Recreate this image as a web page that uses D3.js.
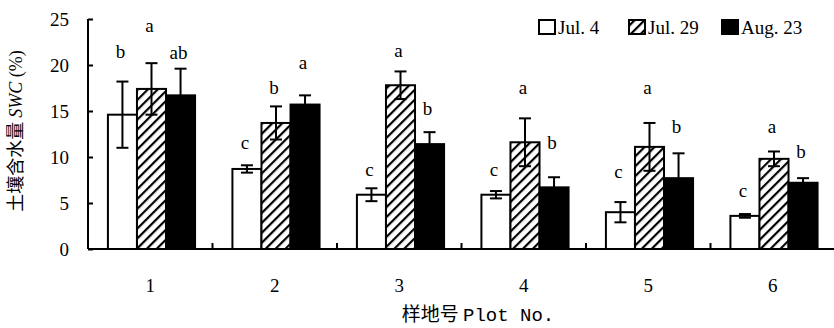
<!DOCTYPE html>
<html>
<head>
<meta charset="utf-8">
<script src="https://cdn.jsdelivr.net/npm/d3@7"></script>
<style>
  body { margin: 0; background: #fff; }
  text, tspan { fill: #000; }
</style>
</head>
<body>
<div id="chart"></div>
<script>
// data
var plots = ["1", "2", "3", "4", "5", "6"];
var dates = ["Jul. 4", "Jul. 29", "Aug. 23"];

var swcJul4  = [14.6, 8.7, 5.9, 5.9, 4.0, 3.6];
var swcJul29 = [17.4, 13.7, 17.8, 11.6, 11.1, 9.8];
var swcAug23 = [16.7, 15.7, 11.4, 6.7, 7.7, 7.2];

var errJul4  = [3.6, 0.4, 0.7, 0.4, 1.1, 0.2];
var errJul29 = [2.8, 1.8, 1.5, 2.6, 2.6, 0.8];
var errAug23 = [2.9, 1.0, 1.3, 1.1, 2.7, 0.5];

// significance letters and the height (in %) where they sit
var sigJul4  = ["b", "c", "c", "c", "c", "c"];
var sigJul29 = ["a", "b", "a", "a", "a", "a"];
var sigAug23 = ["ab", "a", "b", "b", "b", "b"];
var sigAtJul4  = [20.8, 10.9, 7.9, 7.9, 7.7, 5.7];
var sigAtJul29 = [23.6, 16.8, 20.9, 16.8, 16.8, 12.6];
var sigAtAug23 = [20.7, 19.6, 14.6, 10.9, 12.6, 9.9];

var yTicks = [0, 5, 10, 15, 20, 25];

var svgWidth = 834;
var svgHeight = 328;
var margin = { top: 19, right: 0, bottom: 79, left: 88 };
var width = svgWidth - margin.left - margin.right;
var height = svgHeight - margin.top - margin.bottom;

var series = [
    { key: dates[0], vals: swcJul4, errs: errJul4, sig: sigJul4, sigAt: sigAtJul4, fill: "#fff" },
    { key: dates[1], vals: swcJul29, errs: errJul29, sig: sigJul29, sigAt: sigAtJul29, fill: "url(#hatch)" },
    { key: dates[2], vals: swcAug23, errs: errAug23, sig: sigAug23, sigAt: sigAtAug23, fill: "#000" }
];

var svg = d3.select("#chart")
    .append("svg")
    .attr("width", svgWidth)
    .attr("height", svgHeight);

// diagonal hatch
var pat = svg.append("defs").append("pattern")
    .attr("id", "hatch")
    .attr("patternUnits", "userSpaceOnUse")
    .attr("width", 7)
    .attr("height", 7)
    .attr("patternTransform", "rotate(45)");
pat.append("rect").attr("width", 7).attr("height", 7).attr("fill", "#fff");
pat.append("rect").attr("x", 0).attr("width", 2.2).attr("height", 7).attr("fill", "#000");

var chartGroup = svg.append("g")
    .attr("transform", `translate(${margin.left}, ${margin.top})`);

var xScale = d3.scaleBand()
    .domain(plots)
    .range([0, 747])
    .paddingInner(0)
    .paddingOuter(0);

var xInner = d3.scaleBand()
    .domain(dates)
    .range([xScale.bandwidth() * 0.16, xScale.bandwidth() * 0.86]);

var yScale = d3.scaleLinear()
    .domain([0, 25])
    .range([height, 0]);

// bars
series.forEach(function(s) {
    var g = chartGroup.append("g");
    plots.forEach(function(p, i) {
        var x0 = xScale(p) + xInner(s.key);
        var bw = xInner.bandwidth();
        var cx = x0 + bw / 2;
        g.append("rect")
            .attr("x", x0)
            .attr("y", yScale(s.vals[i]))
            .attr("width", bw)
            .attr("height", height - yScale(s.vals[i]))
            .attr("fill", s.fill)
            .attr("stroke", "#000")
            .attr("stroke-width", 2);

        var top = yScale(s.vals[i] + s.errs[i]);
        var bot = yScale(s.vals[i] - s.errs[i]);
        g.append("line")
            .attr("x1", cx).attr("x2", cx)
            .attr("y1", top).attr("y2", bot)
            .attr("stroke", "#000").attr("stroke-width", 2);
        [top, bot].forEach(function(yy) {
            g.append("line")
                .attr("x1", cx - 6).attr("x2", cx + 6)
                .attr("y1", yy).attr("y2", yy)
                .attr("stroke", "#000").attr("stroke-width", 2);
        });

        g.append("text")
            .attr("x", cx - 2)
            .attr("y", yScale(s.sigAt[i]))
            .attr("text-anchor", "middle")
            .attr("font-family", "Liberation Serif, serif")
            .attr("font-size", "19px")
            .text(s.sig[i]);
    });
});

// y axis, ticks pointing inwards
var yAxis = d3.axisLeft(yScale).tickValues(yTicks).tickSize(-5).tickPadding(19);
var yg = chartGroup.append("g").call(yAxis);
yg.select(".domain").attr("stroke-width", 2).attr("d", `M0,0V${height}`);
yg.selectAll(".tick line").attr("stroke-width", 2);
yg.selectAll(".tick text")
    .attr("font-family", "Liberation Serif, serif")
    .attr("font-size", "19px");

// x axis line with small ticks between plots
chartGroup.append("line")
    .attr("x1", 0).attr("x2", width)
    .attr("y1", height).attr("y2", height)
    .attr("stroke", "#000").attr("stroke-width", 2);

plots.slice(1).forEach(function(p) {
    chartGroup.append("line")
        .attr("x1", xScale(p)).attr("x2", xScale(p))
        .attr("y1", height).attr("y2", height - 6)
        .attr("stroke", "#000").attr("stroke-width", 2);
});

chartGroup.selectAll(".xlab")
    .data(plots)
    .enter()
    .append("text")
    .attr("class", "xlab")
    .attr("x", d => xScale(d) + xScale.bandwidth() / 2)
    .attr("y", height + 43)
    .attr("text-anchor", "middle")
    .attr("font-family", "Liberation Serif, serif")
    .attr("font-size", "19px")
    .text(d => d);

// axis titles
svg.append("text")
    .attr("x", 478)
    .attr("y", 321)
    .attr("text-anchor", "middle")
    .attr("font-size", "19px")
    .html('<tspan font-family="Noto Sans CJK SC">样地号 </tspan><tspan font-family="Liberation Mono, monospace">Plot No.</tspan>');

svg.append("text")
    .attr("transform", "translate(22, 131) rotate(-90)")
    .attr("text-anchor", "middle")
    .attr("font-size", "18px")
    .html('<tspan font-family="Noto Sans CJK SC">土壤含水量 </tspan>' +
          '<tspan font-family="Liberation Serif, serif" font-style="italic">SWC</tspan>' +
          '<tspan font-family="Liberation Serif, serif"> (%)</tspan>');

// legend
var legendX = [539, 629, 722];
var legend = svg.append("g");
series.forEach(function(s, i) {
    legend.append("rect")
        .attr("x", legendX[i])
        .attr("y", 20)
        .attr("width", 16)
        .attr("height", 14)
        .attr("fill", s.fill)
        .attr("stroke", "#000")
        .attr("stroke-width", 2);
    legend.append("text")
        .attr("x", legendX[i] + 19)
        .attr("y", 34)
        .attr("font-family", "Liberation Serif, serif")
        .attr("font-size", "19px")
        .text(s.key);
});
</script>
</body>
</html>
